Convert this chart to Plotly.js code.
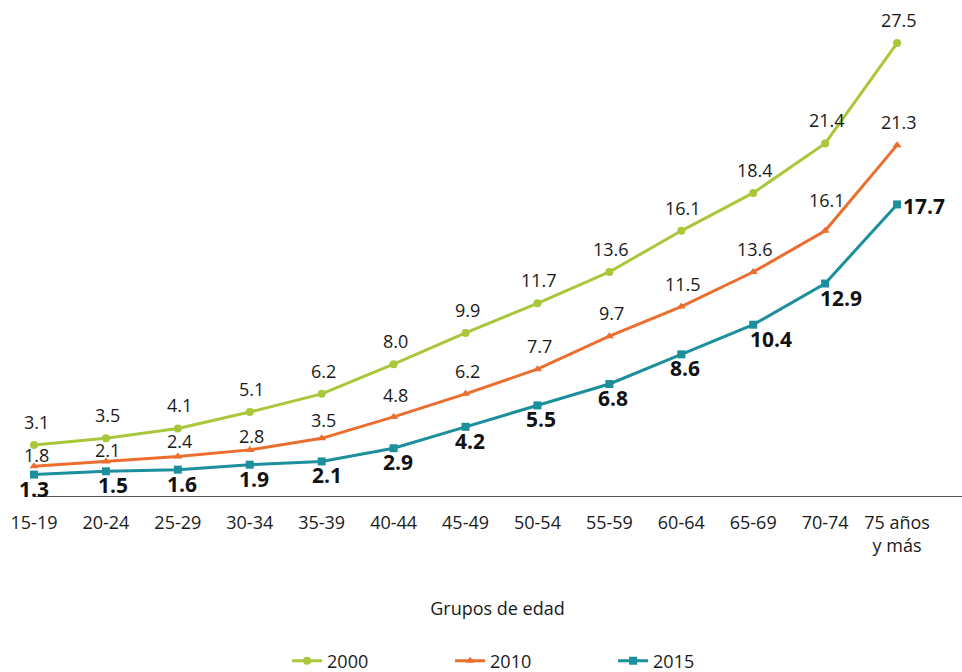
<!DOCTYPE html>
<html>
<head>
<meta charset="utf-8">
<script src="https://cdn.plot.ly/plotly-3.0.1.min.js"></script>
<style>html,body{margin:0;padding:0;background:#fff;}#chart{width:962px;height:672px;}</style>
</head>
<body>
<div id="chart"></div>
<script>
const categories = ["15-19","20-24","25-29","30-34","35-39","40-44","45-49","50-54","55-59","60-64","65-69","70-74","75 años<br>y más"];
const series2000 = [3.1, 3.5, 4.1, 5.1, 6.2, 8.0, 9.9, 11.7, 13.6, 16.1, 18.4, 21.4, 27.5];
const series2010 = [1.8, 2.1, 2.4, 2.8, 3.5, 4.8, 6.2, 7.7, 9.7, 11.5, 13.6, 16.1, 21.3];
const series2015 = [1.3, 1.5, 1.6, 1.9, 2.1, 2.9, 4.2, 5.5, 6.8, 8.6, 10.4, 12.9, 17.7];
const seriesNames = ["2000", "2010", "2015"];

// label placement (pixels, style only)
const lift2010 = [11, 11, 15, 14, 18, 22, 23, 23, 23, 23, 23, 31, 23];
const nudge2015 = [0, 7, 4, 4, 5, 4, 4, 4, 4, 4, 18, 16, 0];

const FONT = "Open Sans, Noto Sans, sans-serif";
const COLORS = ["#a9c73a", "#ec6e2e", "#1b8f9b"];
const SYMBOLS = ["circle", "triangle-up", "square"];
const idx = categories.map((c, i) => i);
const fmt = v => v.toFixed(1);
const allSeries = [series2000, series2010, series2015];

const traces = allSeries.map((s, k) => ({
  x: idx, y: s, name: seriesNames[k], type: "scatter", mode: "lines+markers",
  line: {color: COLORS[k], width: 3},
  marker: {symbol: SYMBOLS[k], size: 8, color: COLORS[k]},
  cliponaxis: false
}));

const annotations = [];
series2000.forEach((v, i) => annotations.push({
  x: i, y: v, xref: "x", yref: "y", text: fmt(v), showarrow: false,
  xanchor: "center", yanchor: "middle", yshift: 23, xshift: 2,
  font: {family: FONT, size: 18, color: "#1a1a1a"}
}));
series2010.forEach((v, i) => annotations.push({
  x: i, y: v, xref: "x", yref: "y", text: fmt(v), showarrow: false,
  xanchor: "center", yanchor: "middle", yshift: lift2010[i], xshift: 2,
  font: {family: FONT, size: 18, color: "#1a1a1a"}
}));
series2015.forEach((v, i) => {
  const last = i === series2015.length - 1;
  annotations.push({
    x: i, y: v, xref: "x", yref: "y", text: "<b>" + fmt(v) + "</b>", showarrow: false,
    xanchor: last ? "left" : "center", yanchor: "middle",
    yshift: last ? -2 : -14, xshift: last ? 4 : nudge2015[i],
    font: {family: FONT, size: 21, color: "#111"}
  });
});

const layout = {
  width: 962, height: 672,
  paper_bgcolor: "#fff", plot_bgcolor: "#fff",
  margin: {l: 33, r: 0, t: 30, b: 176, autoexpand: false},
  font: {family: FONT, size: 18, color: "#1a1a1a"},
  showlegend: true,
  legend: {
    orientation: "h", x: 0.2735, xanchor: "left", y: -0.354, yanchor: "middle",
    font: {family: FONT, size: 18, color: "#1a1a1a"},
    entrywidth: 118, entrywidthmode: "pixels", itemwidth: 30, traceorder: "normal"
  },
  annotations: annotations,
  xaxis: {
    range: [-0.014, 12.903],
    tickmode: "array", tickvals: idx, ticktext: categories,
    showgrid: false, zeroline: false,
    showline: true, linecolor: "#555", linewidth: 1,
    ticks: "", ticklabelstandoff: 10,
    tickfont: {family: FONT, size: 18, color: "#1a1a1a"},
    title: {text: "Grupos de edad", font: {family: FONT, size: 18, color: "#1a1a1a"}, standoff: 46},
    fixedrange: true
  },
  yaxis: {
    range: [0, 28.29], visible: false, showgrid: false, zeroline: false, fixedrange: true
  }
};

Plotly.newPlot("chart", traces, layout, {displayModeBar: false, staticPlot: true});
</script>
</body>
</html>
